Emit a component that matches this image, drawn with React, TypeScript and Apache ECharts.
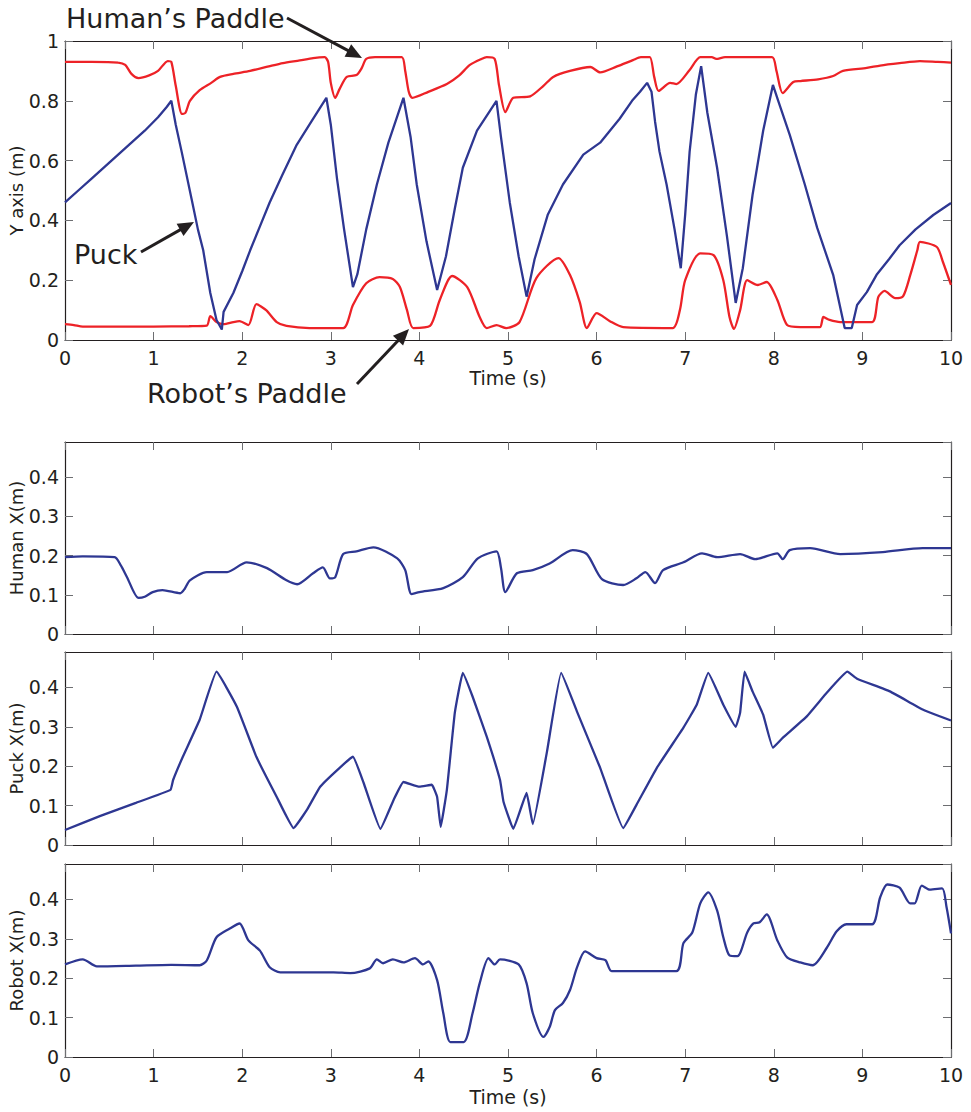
import React, { useEffect, useRef } from "react";
import * as echarts from "echarts";

// ---- Data (time in s, value in m) ----
const humanPaddleY: number[][] = [
  [0, 0.93], [0.3, 0.93], [0.6, 0.928], [0.68, 0.92], [0.75, 0.89], [0.83, 0.876], [0.95, 0.885], [1.05, 0.9],
  [1.16, 0.933], [1.2, 0.93], [1.25, 0.85], [1.32, 0.756], [1.36, 0.76], [1.41, 0.8], [1.52, 0.836], [1.65, 0.86],
  [1.75, 0.88], [1.9, 0.89], [2.09, 0.9], [2.3, 0.915], [2.46, 0.926], [2.65, 0.935], [2.8, 0.943], [2.93, 0.946],
  [2.97, 0.93], [3.0, 0.86], [3.05, 0.81], [3.1, 0.84], [3.18, 0.88], [3.29, 0.886], [3.35, 0.91], [3.4, 0.94],
  [3.5, 0.946], [3.8, 0.946], [3.84, 0.9], [3.88, 0.83], [3.92, 0.81], [4.1, 0.83], [4.31, 0.856], [4.45, 0.885],
  [4.57, 0.92], [4.7, 0.94], [4.76, 0.946], [4.85, 0.94], [4.9, 0.85], [4.97, 0.762], [5.06, 0.81], [5.25, 0.815],
  [5.4, 0.85], [5.51, 0.88], [5.7, 0.9], [5.93, 0.913], [6.04, 0.895], [6.23, 0.915], [6.41, 0.936], [6.5, 0.946],
  [6.6, 0.946], [6.65, 0.88], [6.7, 0.833], [6.83, 0.86], [6.9, 0.856], [7.05, 0.903], [7.17, 0.946], [7.3, 0.946],
  [7.35, 0.94], [7.45, 0.946], [7.98, 0.946], [8.03, 0.9], [8.1, 0.826], [8.22, 0.863], [8.3, 0.866], [8.5, 0.872],
  [8.67, 0.883], [8.78, 0.9], [9.05, 0.91], [9.2, 0.918], [9.42, 0.926], [9.65, 0.933], [9.85, 0.93], [10, 0.928],
];

const puckY: number[][] = [
  [0, 0.46], [0.15, 0.5], [0.3, 0.54], [0.45, 0.58], [0.6, 0.62], [0.75, 0.66], [0.9, 0.7], [1.05, 0.745],
  [1.15, 0.78], [1.2, 0.8], [1.25, 0.72], [1.32, 0.625], [1.43, 0.47], [1.5, 0.37], [1.56, 0.3], [1.64, 0.157],
  [1.71, 0.067], [1.77, 0.035], [1.79, 0.094], [1.9, 0.157], [2.0, 0.23], [2.09, 0.3], [2.2, 0.38], [2.31, 0.46],
  [2.45, 0.55], [2.61, 0.65], [2.78, 0.73], [2.95, 0.81], [3.0, 0.72], [3.07, 0.54], [3.15, 0.37], [3.25, 0.177],
  [3.3, 0.22], [3.4, 0.37], [3.52, 0.52], [3.65, 0.66], [3.82, 0.81], [3.9, 0.68], [3.97, 0.52], [4.08, 0.33],
  [4.2, 0.167], [4.3, 0.28], [4.4, 0.44], [4.49, 0.576], [4.65, 0.7], [4.87, 0.8], [4.92, 0.68], [5.02, 0.46],
  [5.12, 0.28], [5.21, 0.145], [5.3, 0.27], [5.45, 0.42], [5.62, 0.52], [5.85, 0.62], [6.04, 0.66], [6.15, 0.7],
  [6.26, 0.74], [6.4, 0.8], [6.49, 0.83], [6.57, 0.86], [6.62, 0.83], [6.66, 0.73], [6.71, 0.63], [6.79, 0.52],
  [6.88, 0.37], [6.95, 0.24], [7.0, 0.42], [7.05, 0.63], [7.12, 0.82], [7.18, 0.916], [7.25, 0.76], [7.36, 0.576],
  [7.47, 0.35], [7.57, 0.124], [7.65, 0.24], [7.76, 0.485], [7.88, 0.7], [7.99, 0.853], [8.05, 0.8], [8.18, 0.686],
  [8.35, 0.52], [8.49, 0.375], [8.67, 0.218], [8.8, 0.04], [8.88, 0.04], [8.94, 0.117], [9.05, 0.16], [9.16, 0.218],
  [9.3, 0.27], [9.42, 0.317], [9.6, 0.37], [9.8, 0.418], [10, 0.458],
];

const robotPaddleY: number[][] = [
  [0, 0.053], [0.1, 0.05], [0.2, 0.045], [0.6, 0.045], [1.0, 0.045], [1.4, 0.046], [1.6, 0.048], [1.64, 0.08],
  [1.71, 0.06], [1.79, 0.053], [1.9, 0.06], [1.97, 0.063], [2.07, 0.05], [2.16, 0.12], [2.27, 0.1], [2.39, 0.06],
  [2.5, 0.047], [2.76, 0.04], [3.14, 0.04], [3.25, 0.117], [3.4, 0.19], [3.55, 0.21], [3.7, 0.204], [3.78, 0.177],
  [3.86, 0.1], [3.93, 0.04], [4.12, 0.047], [4.23, 0.134], [4.37, 0.214], [4.54, 0.177], [4.68, 0.077], [4.76, 0.04],
  [4.87, 0.05], [4.98, 0.04], [5.13, 0.06], [5.32, 0.207], [5.57, 0.274], [5.7, 0.217], [5.81, 0.127], [5.89, 0.04],
  [6.0, 0.09], [6.15, 0.063], [6.3, 0.043], [6.86, 0.04], [6.94, 0.1], [7.0, 0.2], [7.17, 0.29], [7.32, 0.284],
  [7.43, 0.2], [7.5, 0.077], [7.55, 0.037], [7.62, 0.1], [7.7, 0.2], [7.82, 0.184], [7.92, 0.194], [8.04, 0.134],
  [8.15, 0.05], [8.3, 0.043], [8.52, 0.043], [8.56, 0.077], [8.63, 0.067], [8.75, 0.06], [9.11, 0.06], [9.18, 0.144],
  [9.25, 0.164], [9.37, 0.14], [9.46, 0.147], [9.54, 0.217], [9.62, 0.3], [9.65, 0.328], [9.84, 0.311], [9.91, 0.26],
  [10, 0.184],
];

const humanX: number[][] = [
  [0, 0.196], [0.2, 0.198], [0.56, 0.196], [0.63, 0.175], [0.7, 0.145], [0.83, 0.092], [0.9, 0.095], [0.99, 0.107],
  [1.1, 0.112], [1.3, 0.104], [1.35, 0.115], [1.41, 0.137], [1.6, 0.158], [1.83, 0.158], [2.05, 0.183], [2.28, 0.168],
  [2.5, 0.137], [2.62, 0.127], [2.8, 0.155], [2.91, 0.17], [2.99, 0.142], [3.05, 0.145], [3.14, 0.204], [3.29, 0.211],
  [3.48, 0.221], [3.75, 0.193], [3.84, 0.163], [3.91, 0.102], [4.0, 0.107], [4.27, 0.117], [4.49, 0.145], [4.66, 0.193],
  [4.87, 0.211], [4.92, 0.17], [4.97, 0.107], [5.1, 0.155], [5.28, 0.163], [5.47, 0.18], [5.73, 0.214], [5.89, 0.204],
  [6.06, 0.14], [6.3, 0.125], [6.45, 0.142], [6.55, 0.158], [6.66, 0.13], [6.75, 0.163], [6.98, 0.183], [7.19, 0.206],
  [7.36, 0.196], [7.62, 0.204], [7.79, 0.191], [8.04, 0.206], [8.1, 0.191], [8.18, 0.214], [8.41, 0.219], [8.75, 0.204],
  [9.23, 0.209], [9.68, 0.219], [10, 0.219],
];

const puckX: number[][] = [
  [0, 0.038], [0.4, 0.074], [0.8, 0.107], [1.19, 0.14], [1.22, 0.165], [1.33, 0.224], [1.52, 0.318], [1.71, 0.44],
  [1.94, 0.351], [2.16, 0.224], [2.39, 0.122], [2.58, 0.043], [2.73, 0.089], [2.88, 0.148], [3.1, 0.196], [3.25, 0.224],
  [3.37, 0.158], [3.56, 0.041], [3.71, 0.115], [3.82, 0.16], [4.0, 0.148], [4.14, 0.153], [4.2, 0.122], [4.24, 0.046],
  [4.31, 0.14], [4.4, 0.336], [4.49, 0.437], [4.6, 0.377], [4.76, 0.275], [4.91, 0.165], [4.95, 0.109], [5.06, 0.041],
  [5.21, 0.132], [5.28, 0.053], [5.44, 0.237], [5.6, 0.437], [5.78, 0.338], [6.04, 0.196], [6.3, 0.043], [6.45, 0.102],
  [6.68, 0.196], [6.98, 0.298], [7.13, 0.356], [7.26, 0.437], [7.43, 0.356], [7.57, 0.3], [7.62, 0.336], [7.67, 0.44],
  [7.76, 0.39], [7.88, 0.331], [7.99, 0.247], [8.1, 0.272], [8.37, 0.326], [8.6, 0.387], [8.83, 0.44], [8.94, 0.422],
  [9.31, 0.39], [9.68, 0.344], [10, 0.316],
];

const robotX: number[][] = [
  [0, 0.235], [0.2, 0.248], [0.36, 0.23], [0.8, 0.232], [1.2, 0.234], [1.52, 0.233], [1.6, 0.245], [1.71, 0.304],
  [1.86, 0.326], [1.97, 0.339], [2.07, 0.296], [2.2, 0.27], [2.31, 0.228], [2.43, 0.215], [3.03, 0.215], [3.22, 0.213],
  [3.44, 0.225], [3.52, 0.248], [3.59, 0.238], [3.7, 0.248], [3.82, 0.24], [3.95, 0.251], [4.04, 0.235], [4.1, 0.243],
  [4.2, 0.195], [4.27, 0.111], [4.35, 0.038], [4.5, 0.038], [4.6, 0.111], [4.68, 0.187], [4.78, 0.251], [4.85, 0.235],
  [4.91, 0.248], [5.12, 0.235], [5.21, 0.187], [5.28, 0.111], [5.4, 0.051], [5.47, 0.076], [5.53, 0.119], [5.62, 0.137],
  [5.7, 0.17], [5.78, 0.228], [5.87, 0.268], [6.0, 0.251], [6.1, 0.246], [6.17, 0.218], [6.9, 0.218], [6.98, 0.289],
  [7.08, 0.316], [7.17, 0.39], [7.26, 0.418], [7.36, 0.372], [7.43, 0.304], [7.5, 0.258], [7.59, 0.256], [7.7, 0.316],
  [7.77, 0.339], [7.84, 0.342], [7.92, 0.362], [8.04, 0.296], [8.15, 0.253], [8.3, 0.24], [8.44, 0.233], [8.6, 0.278],
  [8.71, 0.319], [8.82, 0.337], [9.11, 0.337], [9.2, 0.405], [9.28, 0.438], [9.42, 0.43], [9.54, 0.39], [9.59, 0.39],
  [9.67, 0.435], [9.76, 0.425], [9.9, 0.428], [9.95, 0.38], [10, 0.314],
];

const panelNames = ["Y axis (m)", "Human X(m)", "Puck X(m)", "Robot X(m)"];
const timeAxisName = "Time (s)";
const annotationLabels = ["Human\u2019s Paddle", "Puck", "Robot\u2019s Paddle"];

const RED = "#ed2227";
const BLUE = "#2e3792";
const INK = "#231f20";
const FONT = "DejaVu Sans";

function arrow(x1: number, y1: number, x2: number, y2: number) {
  const dx = x2 - x1, dy = y2 - y1;
  const L = Math.hypot(dx, dy);
  const ux = dx / L, uy = dy / L;
  const hl = 16, hw = 7;
  const bx = x2 - ux * hl, by = y2 - uy * hl;
  return [
    { type: "line", shape: { x1, y1, x2: bx + ux * 3, y2: by + uy * 3 }, style: { stroke: INK, lineWidth: 3 }, z: 10 },
    {
      type: "polygon",
      shape: { points: [[x2, y2], [bx - uy * hw, by + ux * hw], [bx + uy * hw, by - ux * hw]] },
      style: { fill: INK },
      z: 10,
    },
  ];
}

export default function App() {
  const ref = useRef<HTMLDivElement>(null);
  useEffect(() => {
    if (!ref.current) return;
    const chart = echarts.init(ref.current, null, { renderer: "svg" });

    const panels = [
      { top: 41, height: 299, max: 1, interval: 0.2, showX: true, xName: timeAxisName, xGap: 28 },
      { top: 442, height: 192, max: 0.49, interval: 0.1, showX: false, xName: "", xGap: 0 },
      { top: 652, height: 193, max: 0.49, interval: 0.1, showX: false, xName: "", xGap: 0 },
      { top: 864, height: 193, max: 0.49, interval: 0.1, showX: true, xName: timeAxisName, xGap: 30 },
    ];

    const tick = { show: true, inside: true, length: 8, lineStyle: { color: "#6d6e71", width: 1 } };
    const line = { show: true, onZero: false, lineStyle: { color: INK, width: 1.2 } };
    const labelStyle = { color: INK, fontFamily: FONT, fontSize: 19 };

    const grid: any[] = [];
    const xAxis: any[] = [];
    const yAxis: any[] = [];
    panels.forEach((p, i) => {
      grid.push({ left: 65, width: 886, top: p.top, height: p.height, containLabel: false, outerBoundsMode: "none" });
      xAxis.push({
        type: "value", gridIndex: i, position: "bottom", min: 0, max: 10, interval: 1,
        axisLine: line, axisTick: tick, splitLine: { show: false },
        axisLabel: { show: p.showX, margin: 8, ...labelStyle },
        name: p.xName, nameLocation: "middle", nameGap: p.xGap, nameMoveOverlap: false,
        nameTextStyle: { color: INK, fontFamily: FONT, fontSize: 19 },
      });
      xAxis.push({
        type: "value", gridIndex: i, position: "top", min: 0, max: 10, interval: 1,
        axisLine: line, axisTick: tick, splitLine: { show: false }, axisLabel: { show: false },
      });
      yAxis.push({
        type: "value", gridIndex: i, position: "left", min: 0, max: p.max, interval: p.interval,
        axisLine: line, axisTick: tick, splitLine: { show: false },
        axisLabel: { margin: 6, showMaxLabel: p.max === 1, ...labelStyle },
        name: panelNames[i], nameLocation: "middle", nameGap: 40, nameMoveOverlap: false,
        nameTextStyle: { color: INK, fontFamily: FONT, fontSize: 18 },
      });
      yAxis.push({
        type: "value", gridIndex: i, position: "right", min: 0, max: p.max, interval: p.interval,
        axisLine: line, axisTick: tick, splitLine: { show: false }, axisLabel: { show: false },
      });
    });

    const mk = (data: number[][], idx: number, color: string, name: string, smooth: number) => ({
      type: "line", name, data, xAxisIndex: idx * 2, yAxisIndex: idx * 2,
      showSymbol: false, symbol: "none", smooth,
      lineStyle: { color, width: 2.3 }, z: 3,
    });

    const series = [
      mk(humanPaddleY, 0, RED, "Human paddle Y", 0.25),
      mk(robotPaddleY, 0, RED, "Robot paddle Y", 0.25),
      mk(puckY, 0, BLUE, "Puck Y", 0),
      mk(humanX, 1, BLUE, "Human X", 0.25),
      mk(puckX, 2, BLUE, "Puck X", 0.1),
      mk(robotX, 3, BLUE, "Robot X", 0.25),
    ];

    const annFont = { fontFamily: FONT, fontSize: 27, fill: INK };
    const graphic: any[] = [
      { type: "text", x: 66, y: 18, style: { text: annotationLabels[0], ...annFont, verticalAlign: "middle" }, z: 10 },
      { type: "text", x: 74, y: 254, style: { text: annotationLabels[1], ...annFont, verticalAlign: "middle" }, z: 10 },
      { type: "text", x: 147, y: 393, style: { text: annotationLabels[2], ...annFont, verticalAlign: "middle" }, z: 10 },
      ...arrow(287, 18, 362, 58),
      ...arrow(141, 252, 194, 222),
      ...arrow(357, 384, 409, 329),
    ];

    chart.setOption({
      animation: false,
      backgroundColor: "#ffffff",
      grid,
      xAxis,
      yAxis,
      series,
      graphic,
    });
    return () => chart.dispose();
  }, []);

  return <div ref={ref} style={{ position: "absolute", left: 0, top: 0, width: 971, height: 1112 }} />;
}
